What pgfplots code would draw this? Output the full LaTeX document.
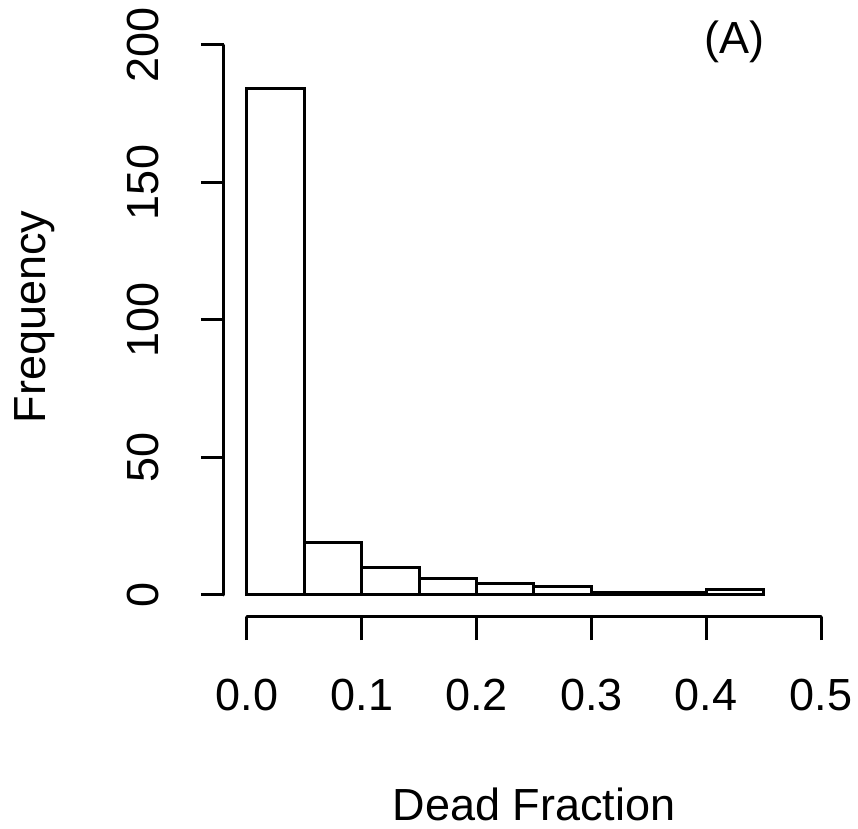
\documentclass[border=0pt]{standalone}
\usepackage{pgfplots}
\pgfplotsset{compat=1.18}
\usepackage{fontspec}
\setmainfont{Liberation Sans}
\begin{document}
\begin{tikzpicture}
\useasboundingbox (-112pt,-106pt) rectangle (317pt,308.5pt);
\begin{axis}[
  at={(0,0)}, anchor=south west,
  scale only axis, width=310pt, height=297pt,
  xmin=-0.02, xmax=0.52, ymin=-8, ymax=208,
  axis line style={draw=none},
  xtick={0,0.1,0.2,0.3,0.4,0.5},
  ytick={0,50,100,150,200},
  xticklabels={0.0,0.1,0.2,0.3,0.4,0.5},
  yticklabels={0,50,100,150,200},
  tick align=outside, major tick length=11.5pt,
  tick style={line width=1.5pt, black},
  xtick pos=bottom, ytick pos=left,
  ticklabel style={font=\fontsize{22.5}{26}\selectfont},
  xticklabel style={anchor=center, yshift=-27.5pt},
  yticklabel style={xshift=-29pt, rotate=90, anchor=center},
  xlabel={Dead Fraction}, ylabel={Frequency},
  label style={font=\fontsize{22.5}{26}\selectfont},
  xlabel style={at={(axis description cs:0.5,-0.316)}, anchor=center, inner sep=1pt},
  ylabel style={at={(axis description cs:-0.305,0.505)}, anchor=center, rotate=0},
  clip=false,
]
\draw[line width=1.5pt, line cap=round] (axis cs:0,-8) -- (axis cs:0.5,-8);
\draw[line width=1.5pt, line cap=round] (axis cs:-0.02,0) -- (axis cs:-0.02,200);
\addplot[ybar interval, draw=black, fill=white, line width=1.5pt] coordinates {
(0,184) (0.05,19) (0.1,10) (0.15,6) (0.2,4) (0.25,3) (0.3,1) (0.35,1) (0.4,2) (0.45,2)};
\node[font=\fontsize{22.5}{26}\selectfont] at (axis cs:0.425,201) {(A)};
\end{axis}
\end{tikzpicture}
\end{document}
